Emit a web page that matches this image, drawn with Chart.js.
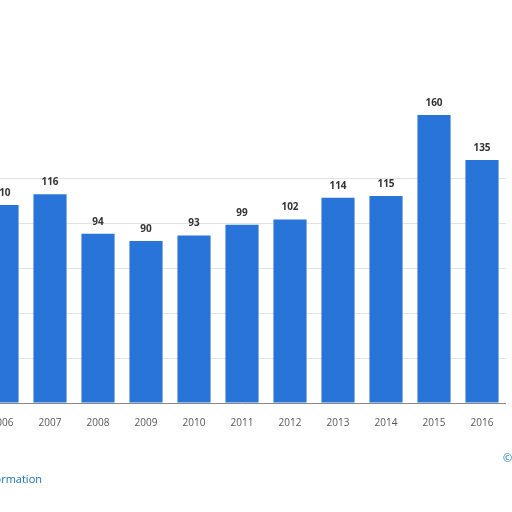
<!DOCTYPE html>
<html><head><meta charset="utf-8">
<script src="https://cdn.jsdelivr.net/npm/chart.js@4"></script>
<style>
html,body{margin:0;padding:0;width:512px;height:512px;overflow:hidden;background:#fff;font-family:"Open Sans",sans-serif;}
#wrap{position:absolute;left:-22px;top:0;width:528px;height:512px;}
#info{position:absolute;left:-74px;top:471px;font-size:11px;color:#1a6fb5;white-space:nowrap;}
#copy{position:absolute;left:503px;top:450px;font-size:11px;color:#1a6fb5;white-space:nowrap;}
</style></head><body>
<div id="wrap"><canvas id="c"></canvas></div>
<div id="info">Additional Information</div>
<div id="copy">© Statista 2017</div>
<script>
const years = ["2006","2007","2008","2009","2010","2011","2012","2013","2014","2015","2016"];
const values = [110,116,94,90,93,99,102,114,115,160,135];
const labelPlugin = {
  id:'vals',
  afterDatasetsDraw(chart){
    const ctx=chart.ctx, meta=chart.getDatasetMeta(0);
    ctx.save();ctx.font='bold 10px "Open Sans", sans-serif';ctx.fillStyle='#333';ctx.textAlign='center';ctx.textBaseline='bottom';
    meta.data.forEach((b,i)=>ctx.fillText(values[i],b.x,b.y-7));
    ctx.restore();
  }
};
new Chart(document.getElementById('c'),{
  type:'bar',
  data:{labels:years,datasets:[{data:values,backgroundColor:'#2874d9',barPercentage:0.69,categoryPercentage:1}]},
  options:{responsive:true,maintainAspectRatio:false,animation:false,
    layout:{padding:{top:88,left:0,right:0,bottom:0}},
    plugins:{legend:{display:false},tooltip:{enabled:false}},
    scales:{
      x:{grid:{display:false},border:{color:'#888',width:1},
         ticks:{color:'#555',font:{size:10,family:'"Open Sans", sans-serif'},padding:6},
         afterFit(s){s.height=109;}},
      y:{display:true,min:0,max:175,
         ticks:{display:false,stepSize:25},
         border:{display:false},
         grid:{color:c=>(c.tick&&c.tick.value>125)?'rgba(0,0,0,0)':'#e2e2e2',lineWidth:1,borderDash:[1,2],drawTicks:false},
         afterFit(s){s.width=0;}}
    }
  },
  plugins:[labelPlugin]
});
</script>
</body></html>
